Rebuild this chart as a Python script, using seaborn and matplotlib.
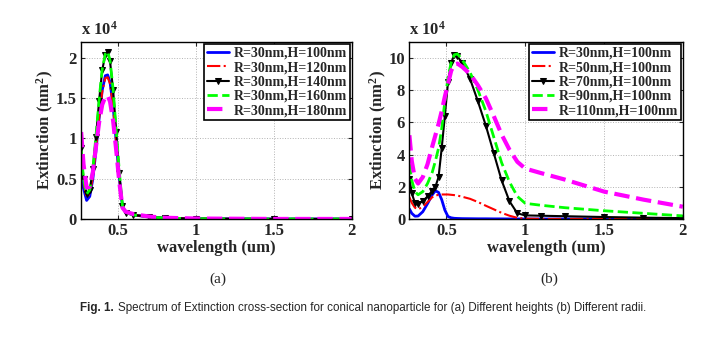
import matplotlib
matplotlib.use("Agg")
import matplotlib.pyplot as plt
import seaborn as sns

# (a) different heights, R = 30 nm   (values in units of 1e4 nm^2)
wl_a = [0.265, 0.28, 0.30, 0.32, 0.34, 0.36, 0.38, 0.40, 0.42, 0.435, 0.45,
        0.47, 0.49, 0.51, 0.53, 0.55, 0.60, 0.70, 0.80, 1.0, 1.5, 2.0]
h100 = [0.60, 0.38, 0.23, 0.28, 0.50, 0.85, 1.25, 1.60, 1.78, 1.79, 1.70,
        1.40, 0.95, 0.50, 0.15, 0.08, 0.05, 0.025, 0.01, 0.003, 0.0, 0.0]
h120 = [0.72, 0.45, 0.27, 0.31, 0.52, 0.86, 1.25, 1.58, 1.75, 1.76, 1.68,
        1.38, 0.94, 0.50, 0.15, 0.08, 0.05, 0.025, 0.01, 0.003, 0.0, 0.0]
h140 = [0.88, 0.50, 0.31, 0.36, 0.62, 1.02, 1.47, 1.85, 2.04, 2.07, 1.96,
        1.60, 1.08, 0.57, 0.16, 0.08, 0.05, 0.025, 0.01, 0.003, 0.0, 0.0]
h160 = [0.85, 0.49, 0.31, 0.36, 0.62, 1.03, 1.48, 1.86, 2.05, 2.08, 1.97,
        1.61, 1.09, 0.58, 0.16, 0.08, 0.05, 0.025, 0.01, 0.003, 0.0, 0.0]
h180 = [1.08, 0.68, 0.39, 0.40, 0.58, 0.90, 1.20, 1.42, 1.52, 1.53, 1.46,
        1.22, 0.85, 0.45, 0.14, 0.09, 0.06, 0.03, 0.015, 0.005, 0.0, 0.0]
labels_a = ['R=30nm,H=100nm', 'R=30nm,H=120nm', 'R=30nm,H=140nm',
            'R=30nm,H=160nm', 'R=30nm,H=180nm']

# (b) different radii, H = 100 nm
wl_b = [0.265, 0.28, 0.30, 0.32, 0.35, 0.38, 0.41, 0.43, 0.45, 0.47, 0.49,
        0.51, 0.53, 0.55, 0.57, 0.60, 0.65, 0.70, 0.75, 0.80, 0.85, 0.90,
        0.95, 1.0, 1.1, 1.25, 1.5, 1.75, 2.0]
r30 = [0.62, 0.35, 0.17, 0.18, 0.45, 0.95, 1.5, 1.75, 1.65, 1.2, 0.55,
       0.15, 0.07, 0.04, 0.03, 0.02, 0.015, 0.01, 0.01, 0.005, 0.005, 0.0,
       0.0, 0.0, 0.0, 0.0, 0.0, 0.0, 0.0]
r50 = [1.35, 1.0, 0.7, 0.6, 0.75, 1.05, 1.35, 1.45, 1.5, 1.52, 1.52,
       1.52, 1.5, 1.48, 1.45, 1.38, 1.25, 1.05, 0.82, 0.6, 0.38, 0.2,
       0.07, 0.02, 0.0, 0.0, 0.0, 0.0, 0.0]
r70 = [2.5, 1.6, 1.0, 0.95, 1.1, 1.4, 1.75, 2.0, 2.6, 4.4, 6.4,
       8.5, 9.7, 10.2, 10.1, 9.7, 8.7, 7.3, 5.8, 4.1, 2.4, 1.1,
       0.35, 0.22, 0.2, 0.17, 0.12, 0.08, 0.05]
r90 = [3.4, 2.4, 1.7, 1.5, 1.7, 2.2, 2.9, 3.6, 4.4, 5.6, 7.3,
       8.8, 9.7, 10.2, 10.25, 9.9, 9.1, 8.0, 6.7, 5.1, 3.5, 2.3,
       1.4, 0.97, 0.85, 0.7, 0.51, 0.35, 0.19]
r110 = [5.2, 3.6, 2.5, 2.2, 2.6, 3.4, 4.5, 5.2, 5.9, 6.7, 7.6,
        8.4, 9.2, 9.6, 9.65, 9.45, 9.0, 8.3, 7.5, 6.4, 5.25, 4.3,
        3.55, 3.13, 2.85, 2.45, 1.7, 1.2, 0.76]
labels_b = ['R=30nm,H=100nm', 'R=50nm,H=100nm', 'R=70nm,H=100nm',
            'R=90nm,H=100nm', 'R=110nm,H=100nm']

styles = [dict(color=(0, 0, 1), ls='-', lw=2),
          dict(color=(1, 0, 0), ls='-.', lw=1.5),
          dict(color='k', ls='-', lw=1.5, marker='v', ms=4, mec='k', mfc='k'),
          dict(color=(0, 1, 0), ls='--', lw=2, dashes=(2.5, 2)),
          dict(color=(1, 0, 1), ls='--', lw=3, dashes=(1.5, 1))]

sns.set_style("ticks")
plt.rcParams['font.family'] = ['Liberation Serif', 'DejaVu Serif']
plt.rcParams['mathtext.fontset'] = 'custom'
plt.rcParams['mathtext.rm'] = 'Liberation Serif:bold'
plt.rcParams['mathtext.default'] = 'rm'

fig = plt.figure(figsize=(7.12, 3.52), dpi=100)
ax1 = fig.add_axes([0.114, 0.378, 0.380, 0.503])
ax2 = fig.add_axes([0.575, 0.378, 0.384, 0.503])

panels = [(ax1, wl_a, [h100, h120, h140, h160, h180], labels_a, 2.2, [0, 0.5, 1, 1.5, 2], ['0', '0.5', '1', '1.5', '2']),
          (ax2, wl_b, [r30, r50, r70, r90, r110], labels_b, 11, [0, 2, 4, 6, 8, 10], ['0', '2', '4', '6', '8', '10'])]

for ax, wl, series, labels, ytop, yt, ytl in panels:
    for vals, lab, st in zip(series, labels, styles):
        sns.lineplot(x=wl, y=vals, ax=ax, label=lab, **st)
    ax.set_xlim(0.265, 2)
    ax.set_ylim(0, ytop)
    ax.set_xticks([0.5, 1, 1.5, 2])
    ax.set_xticklabels(['0.5', '1', '1.5', '2'])
    ax.set_yticks(yt)
    ax.set_yticklabels(ytl)
    ax.grid(True, ls=':', color='0.7', lw=0.7)
    ax.tick_params(direction='in', top=True, right=True, length=3, width=0.8,
                   labelsize=12, pad=3)
    for lbl in ax.get_xticklabels() + ax.get_yticklabels():
        lbl.set_fontweight('bold')
    for sp in ax.spines.values():
        sp.set_color('k')
        sp.set_linewidth(1.0)
    ax.set_xlabel('wavelength (um)', fontsize=12, fontweight='bold', labelpad=1)
    ax.set_ylabel('Extinction (nm$^{2}$)', fontsize=12, fontweight='bold', labelpad=0)
    ax.text(0, 1.02, 'x 10$^{4}$', transform=ax.transAxes, fontsize=12,
            fontweight='bold', va='bottom', ha='left')
    leg = ax.legend(loc='upper right', fancybox=False, framealpha=1,
                    edgecolor='k', borderaxespad=0.15, handlelength=1.6,
                    handletextpad=0.3, labelspacing=0.1, borderpad=0.2,
                    prop={'weight': 'bold', 'size': 10})
    leg.get_frame().set_linewidth(1.2)

fig.text(0.306, 0.207, '(a)', ha='center', va='center', fontsize=11,
         family=['Liberation Serif'])
fig.text(0.771, 0.207, '(b)', ha='center', va='center', fontsize=11,
         family=['Liberation Serif'])

cap_font = ['Liberation Sans Narrow', 'Liberation Sans', 'DejaVu Sans']
t1 = fig.text(80 / 712, 0.125, 'Fig. 1.', fontsize=8.4, fontweight='bold',
              family=cap_font, va='center', ha='left')
fig.canvas.draw()
bb = t1.get_window_extent()
fig.text((bb.x1 + 4) / 712, 0.125,
         'Spectrum of Extinction cross-section for conical nanoparticle for '
         '(a) Different heights (b) Different radii.',
         fontsize=8.4, family=cap_font, va='center', ha='left')

fig.savefig('out.png', dpi=100)
